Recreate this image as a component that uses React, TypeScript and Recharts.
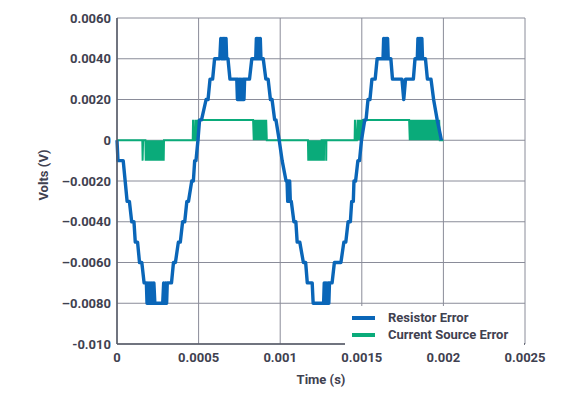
import { LineChart, Line, XAxis, YAxis, CartesianGrid, Legend, Label } from 'recharts';

// time in microseconds, error in millivolts
const resistorPoints: [number, number][] = [
  [0, 0], [6, -1], [38, -1], [50, -2], [62, -3], [76, -3], [90, -4], [104, -4], [112, -5], [126, -5],
  [138, -6], [152, -6], [166, -7], [180, -7],
  [184, -8], [190, -7], [196, -8], [202, -7], [208, -8], [214, -7], [220, -8], [226, -7], [232, -8],
  [280, -8], [286, -7], [292, -8], [298, -7], [304, -8], [308, -7],
  [334, -7], [346, -6], [358, -6], [376, -5], [388, -5], [402, -4], [415, -4], [428, -3], [438, -3],
  [458, -2], [468, -2], [476, -1], [484, -1], [496, 0],
  [506, 1], [518, 1], [546, 2], [558, 2], [570, 3], [586, 3], [598, 4], [630, 4],
  [636, 5], [640, 4], [644, 5], [648, 4], [652, 5], [656, 4], [660, 5], [664, 4], [668, 5], [672, 4],
  [680, 4], [692, 3], [734, 3],
  [738, 2], [742, 3], [746, 2], [750, 3], [754, 2], [758, 3], [762, 2], [766, 3], [770, 2], [774, 3], [778, 2], [782, 3],
  [812, 3], [826, 4], [850, 4],
  [854, 5], [858, 4], [862, 5], [866, 4], [870, 5], [874, 4], [878, 5], [882, 4],
  [896, 4], [912, 3], [926, 3], [940, 2], [950, 2], [966, 1], [974, 1], [994, 0],
  [1012, -1], [1036, -2], [1042, -2],
  [1046, -3], [1050, -2], [1054, -3], [1058, -2], [1062, -3],
  [1068, -3], [1084, -4], [1096, -4], [1104, -5], [1120, -5], [1142, -6], [1156, -6], [1166, -7], [1196, -7],
  [1202, -8], [1266, -8],
  [1270, -7], [1274, -8], [1278, -7], [1282, -8], [1286, -7], [1290, -8], [1294, -7], [1298, -8], [1302, -7],
  [1318, -7], [1332, -6], [1372, -6], [1390, -5], [1402, -5], [1416, -4], [1430, -4], [1438, -3], [1448, -3],
  [1452, -2], [1462, -2], [1476, -1], [1486, -1], [1498, 0],
  [1518, 1], [1526, 1], [1538, 2], [1550, 2], [1562, 3], [1582, 3], [1594, 4], [1630, 4],
  [1634, 5], [1638, 4], [1642, 5], [1646, 4], [1650, 5], [1654, 4], [1658, 5], [1662, 4],
  [1678, 4], [1688, 3], [1746, 3], [1757, 2], [1768, 3], [1816, 3], [1826, 4], [1840, 4],
  [1844, 5], [1848, 4], [1852, 5], [1856, 4], [1860, 5], [1864, 4], [1868, 5], [1872, 4],
  [1890, 4], [1902, 3], [1924, 3], [1940, 2], [1962, 1], [1988, 0],
];

const currentSourcePoints: [number, number][] = [
  [0, 0], [155, 0], [157, -1], [160, 0],
  [174, 0], [176, -1], [180, 0], [184, -1], [188, 0], [192, -1], [196, 0], [200, -1], [204, 0], [208, -1],
  [212, 0], [216, -1], [220, 0], [224, -1], [228, 0], [232, -1], [236, 0], [240, -1], [244, 0], [248, -1],
  [252, 0], [256, -1], [260, 0], [264, -1], [268, 0], [272, -1], [276, 0], [280, -1], [284, 0], [286, -1], [288, 0],
  [464, 0], [466, 1], [469, 0], [478, 0], [480, 1], [484, 0], [487, 1], [491, 0], [494, 1], [498, 0], [501, 1],
  [834, 1], [838, 0], [842, 1], [846, 0], [850, 1], [854, 0], [858, 1], [862, 0], [866, 1], [870, 0], [874, 1],
  [878, 0], [882, 1], [886, 0], [890, 1], [894, 0], [898, 1], [902, 0], [906, 1], [910, 0], [914, 1], [918, 0],
  [1170, 0], [1172, -1], [1176, 0], [1180, -1], [1184, 0], [1188, -1], [1192, 0], [1196, -1], [1200, 0],
  [1204, -1], [1208, 0], [1212, -1], [1216, 0], [1220, -1], [1224, 0], [1228, -1], [1232, 0], [1236, -1],
  [1240, 0], [1244, -1], [1248, 0], [1252, -1], [1254, 0],
  [1257, 0], [1258, -1], [1259, 0], [1267, 0], [1268, -1], [1269, 0], [1281, 0], [1282, -1], [1283, 0],
  [1456, 0], [1458, 1], [1462, 0], [1470, 0], [1474, 1], [1478, 0], [1482, 1], [1486, 0], [1490, 1], [1494, 0],
  [1498, 1], [1502, 0], [1506, 1],
  [1790, 1], [1794, 0], [1798, 1], [1802, 0], [1806, 1], [1810, 0], [1814, 1], [1818, 0], [1822, 1], [1826, 0],
  [1830, 1], [1834, 0], [1838, 1], [1842, 0], [1846, 1], [1850, 0], [1854, 1], [1858, 0], [1862, 1], [1866, 0],
  [1870, 1], [1874, 0], [1878, 1], [1882, 0], [1886, 1], [1890, 0], [1894, 1], [1898, 0], [1902, 1], [1906, 0],
  [1910, 1], [1914, 0], [1918, 1], [1922, 0], [1926, 1], [1930, 0], [1934, 1], [1938, 0], [1942, 1], [1946, 0],
  [1950, 1], [1954, 0], [1958, 1], [1962, 0], [1966, 1], [1970, 0], [1974, 1], [1978, 0], [2000, 0],
];

const xTicks = [0, 0.0005, 0.001, 0.0015, 0.002, 0.0025];
const xTickLabels = ['0', '0.0005', '0.001', '0.0015', '0.002', '0.0025'];
const yTicks = [-0.01, -0.008, -0.006, -0.004, -0.002, 0, 0.002, 0.004, 0.006];
const yTickLabels = ['-0.010', '–0.0080', '–0.0060', '–0.0040', '–0.0020', '0', '0.0020', '0.0040', '0.0060'];

const seriesNames = ['Resistor Error', 'Current Source Error'];
const seriesColors = ['#0a66b8', '#0aab7a'];

const toSeconds = (pts: [number, number][]) => pts.map(([t, v]) => ({ t: t * 1e-6, v: v * 1e-3 }));
const resistorData = toSeconds(resistorPoints);
const currentSourceData = toSeconds(currentSourcePoints);

const textColor = '#3f4150';
const font = 'Roboto, sans-serif';

function LegendBox() {
  return (
    <div style={{ background: '#fff', padding: '3px 0 2px 7px', fontFamily: font, fontWeight: 700, fontSize: 13, color: textColor }}>
      {seriesNames.map((name, i) => (
        <div key={name} style={{ display: 'flex', alignItems: 'center', height: 17 }}>
          <span style={{ display: 'inline-block', width: 23, height: 4, background: seriesColors[i], marginRight: 13 }} />
          <span>{name}</span>
        </div>
      ))}
    </div>
  );
}

export default function App() {
  return (
    <LineChart width={557} height={383} margin={{ top: 10, right: 40, bottom: 0, left: 0 }}>
      <CartesianGrid stroke="#8a8c99" strokeWidth={1} />
      <XAxis
        type="number"
        dataKey="t"
        domain={[0, 0.0025]}
        ticks={xTicks}
        interval={0}
        height={47}
        tickLine={false}
        tickMargin={3}
        axisLine={{ stroke: '#555866', strokeWidth: 1.5 }}
        tick={{ fill: textColor, fontSize: 13, fontWeight: 700, fontFamily: font }}
        tickFormatter={(v: number) => xTickLabels[xTicks.indexOf(v)] ?? String(v)}
      >
        <Label value="Time (s)" position="insideBottom" offset={7} fill={textColor} fontSize={13} fontWeight={700} fontFamily={font} />
      </XAxis>
      <YAxis
        type="number"
        domain={[-0.01, 0.006]}
        ticks={yTicks}
        interval={0}
        width={109}
        tickLine={false}
        tickMargin={0}
        axisLine={{ stroke: '#555866', strokeWidth: 1.5 }}
        tick={{ fill: textColor, fontSize: 13, fontWeight: 700, fontFamily: font }}
        tickFormatter={(v: number) => yTickLabels[yTicks.indexOf(v)] ?? String(v)}
      >
        <Label
          content={({ viewBox }: any) => {
            const cx = viewBox.x + 35;
            const cy = viewBox.y + viewBox.height / 2 - 6;
            return (
              <text x={cx} y={cy} transform={`rotate(-90, ${cx}, ${cy})`} textAnchor="middle" dominantBaseline="central"
                fill={textColor} fontSize={13} fontWeight={700} fontFamily={font}>
                Volts (V)
              </text>
            );
          }}
        />
      </YAxis>
      <Legend
        layout="vertical"
        align="center"
        verticalAlign="middle"
        wrapperStyle={{ left: 337, top: 298, width: 179 }}
        content={() => <LegendBox />}
      />
      <Line
        data={currentSourceData}
        dataKey="v"
        name={seriesNames[1]}
        type="linear"
        stroke={seriesColors[1]}
        strokeWidth={2}
        dot={false}
        activeDot={false}
        isAnimationActive={false}
      />
      <Line
        data={resistorData}
        dataKey="v"
        name={seriesNames[0]}
        type="linear"
        stroke={seriesColors[0]}
        strokeWidth={3.4}
        strokeLinejoin="round"
        dot={false}
        activeDot={false}
        isAnimationActive={false}
      />
    </LineChart>
  );
}
